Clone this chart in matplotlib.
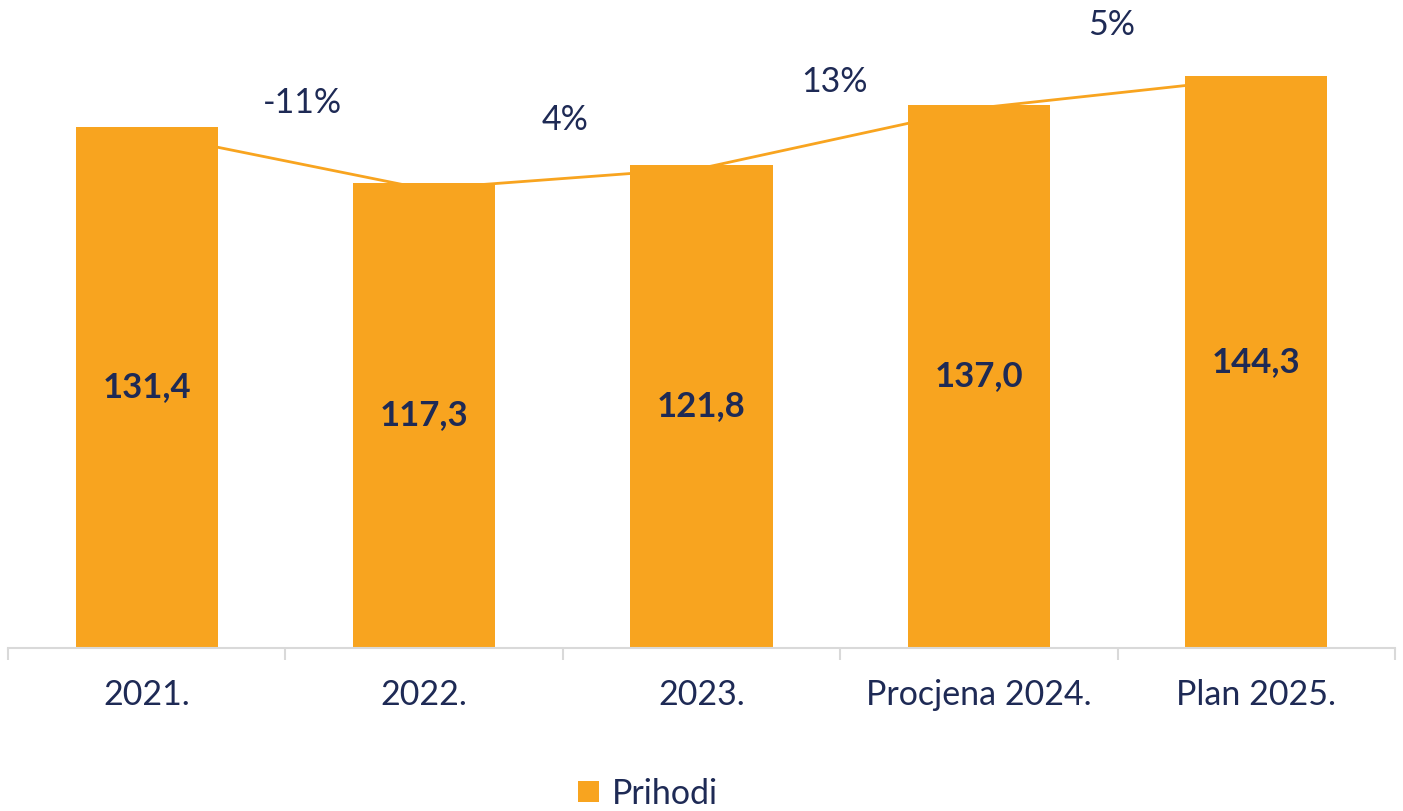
import matplotlib
matplotlib.use("Agg")
import matplotlib.pyplot as plt
from matplotlib.patches import Patch
import numpy as np

categories = ["2021.", "2022.", "2023.", "Procjena 2024.", "Plan 2025."]
prihodi = [131.4, 117.3, 121.8, 137.0, 144.3]
trend_line = [129.9, 115.8, 121.0, 136.2, 143.8]
growth_labels = ["-11%", "4%", "13%", "5%"]
growth_label_heights = [137.5, 133.2, 142.7, 157.1]

ORANGE = "#F8A41F"
NAVY = "#1E2A55"
GREY = "#D9D9D9"

plt.rcParams['font.family'] = ['Lato', 'DejaVu Sans']

fig = plt.figure(figsize=(14.03, 8.11), dpi=100)
ax = fig.add_axes([8/1403, 163/811, 1387/1403, 634.4/811])

x = np.arange(len(categories))
ax.plot(x, trend_line, color=ORANGE, lw=2.0, zorder=1)
bars = ax.bar(x, prihodi, width=0.512, color=ORANGE, zorder=2)

for xi, v in zip(x, prihodi):
    ax.text(xi, v / 2, f"{v:.1f}".replace(".", ","), ha="center", va="center",
            fontsize=25, fontweight="bold", color=NAVY, zorder=3)

label_shift = [0.06, 0.01, -0.02, -0.02]
for i, (lab, h) in enumerate(zip(growth_labels, growth_label_heights)):
    ax.text(i + 0.5 + label_shift[i], h, lab, ha="center", va="center",
            fontsize=24.5, color=NAVY)

ax.set_xlim(-0.5, len(categories) - 0.5)
ax.set_ylim(0, 160)
ax.set_yticks([])
for s in ["top", "right", "left"]:
    ax.spines[s].set_visible(False)
ax.spines["bottom"].set_color(GREY)
ax.spines["bottom"].set_linewidth(1.5)

ax.set_xticks(x)
ax.set_xticklabels(categories, fontsize=24.5, color=NAVY)
ax.tick_params(axis="x", which="major", length=0, pad=22)
ax.set_xticks(np.arange(-0.5, len(categories)), minor=True)
ax.tick_params(axis="x", which="minor", length=8.5, width=1.5, color=GREY, direction="out")

fig.legend(handles=[Patch(facecolor=ORANGE, label="Prihodi")], loc="lower center",
           bbox_to_anchor=(0.462, -0.036), frameon=False, fontsize=24.5,
           handlelength=0.6, handleheight=0.6, handletextpad=0.4,
           labelcolor=NAVY)

fig.savefig("out.png", dpi=100)
